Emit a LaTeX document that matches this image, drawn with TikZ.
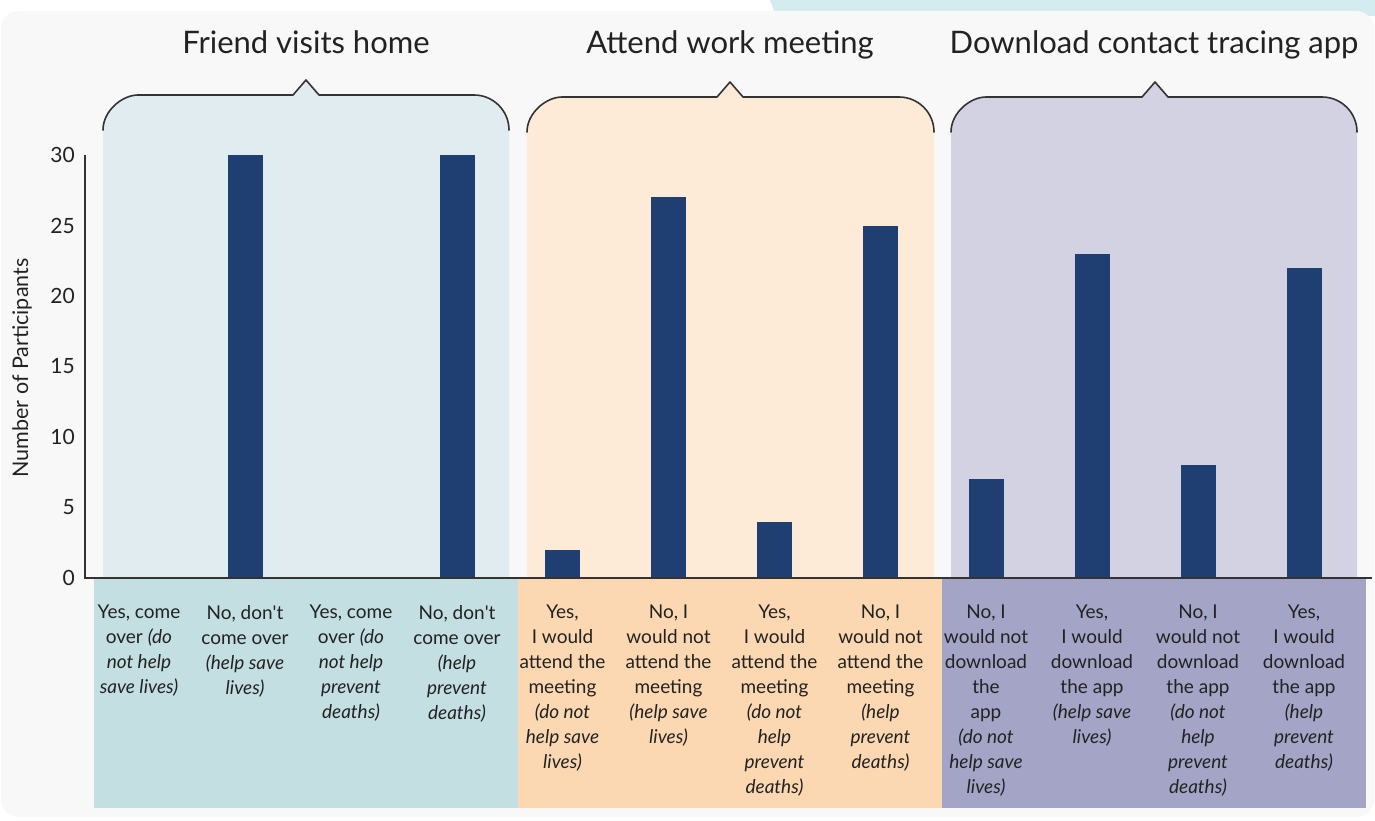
\documentclass[tikz,border=0pt]{standalone}
\usepackage{fontspec}
\setmainfont{Lato}
\definecolor{barcol}{HTML}{1F3F73}
\definecolor{panelA}{HTML}{E0ECEF}
\definecolor{bandA}{HTML}{C3DFE2}
\definecolor{panelB}{HTML}{FDEBD8}
\definecolor{bandB}{HTML}{FBD8B2}
\definecolor{panelC}{HTML}{D3D2E3}
\definecolor{bandC}{HTML}{A4A4C6}
\definecolor{cardcol}{HTML}{F8F8F8}
\definecolor{stripcol}{HTML}{D4ECEF}
\definecolor{inkcol}{HTML}{222222}
\definecolor{linecol}{HTML}{333333}
\tikzset{
  bracketline/.style={draw=linecol, line width=1.6pt, line cap=round, line join=round},
  axisline/.style={draw=linecol, line width=1.8pt},
  catlabel/.style={text=inkcol, align=center, inner sep=0pt, anchor=north, font=\fontsize{19}{25}\selectfont},
  ticklabel/.style={text=inkcol, inner sep=0pt, anchor=east, font=\fontsize{21}{23}\selectfont},
  grouptitle/.style={text=inkcol, inner sep=0pt, anchor=base, font=\fontsize{31}{33}\selectfont},
  barfill/.style={fill=barcol}
}
\newcommand{\panelshape}[6]{% L R T P fill name
  \fill[#5] (#1,578) -- (#1,#3+35) .. controls (#1,#3+15.7) and (#1+19.3,#3) .. (#1+35,#3)
     -- (#4-13,#3) -- (#4,#3-15) -- (#4+13,#3) -- (#2-35,#3)
     .. controls (#2-15.7,#3) and (#2,#3+15.7) .. (#2,#3+35) -- (#2,578) -- cycle;
  \draw[bracketline] (#1,#3+35) .. controls (#1,#3+15.7) and (#1+19.3,#3) .. (#1+35,#3)
     -- (#4-13,#3) -- (#4,#3-15) -- (#4+13,#3) -- (#2-35,#3)
     .. controls (#2-15.7,#3) and (#2,#3+15.7) .. (#2,#3+35);
  \coordinate (#6) at (#4,#3-15);
}
\newcommand{\qs}{\textquotesingle}
\begin{document}
\begin{tikzpicture}[x=1pt,y=-1pt]
\useasboundingbox (0,0) rectangle (1375,820);
\fill[white] (0,0) rectangle (1375,820);
\fill[stripcol] (770,0) -- (1375,0) -- (1375,16) -- (776,16) -- cycle;
\fill[cardcol, rounded corners=18pt] (1,11) rectangle (1374,817);
% label bands
\fill[bandA] (94,578) rectangle (518,808);
\fill[bandB] (518,578) rectangle (942,808);
\fill[bandC] (942,578) rectangle (1366,808);
% panels with brackets
\panelshape{103}{509}{95}{306}{panelA}{peakA}
\panelshape{527}{934}{97}{730}{panelB}{peakB}
\panelshape{951}{1357}{97}{1155}{panelC}{peakC}
% titles
\node[grouptitle] (titleA) at (306,53) {Friend visits home};
\node[grouptitle] (titleB) at (730,53) {Attend work meeting};
\node[grouptitle] (titleC) at (1154,53) {Download contact tracing app};
% bars
\foreach \g/\k/\v in {0/1/30, 0/3/30, 1/0/2, 1/1/27, 1/2/4, 1/3/25, 2/0/7, 2/1/23, 2/2/8, 2/3/22}{
  \fill[barfill] ({139+106*\k+423.5*\g-17.5},578) rectangle ++(35,{-14.1*\v});
}
% axes
\draw[axisline] (85,155) -- (85,578) -- (1372,578);
\foreach \v in {0,5,...,30}{
  \node[ticklabel] (tick\v) at (75,{578-14.1*\v}) {\v};
}
\node[text=inkcol, rotate=90, inner sep=0pt, font=\fontsize{21.5}{23}\selectfont] (ytitle) at (22,368) {Number of Participants};
% category labels
\node[catlabel] (a1) at (139,605) {Yes, come\\over \textit{(do}\\\textit{not help}\\\textit{save lives)}};
\node[catlabel] (a2) at (245,605) {No, don\qs t\\come over\\\textit{(help save}\\\textit{lives)}};
\node[catlabel] (a3) at (351,605) {Yes, come\\over \textit{(do}\\\textit{not help}\\\textit{prevent}\\\textit{deaths)}};
\node[catlabel] (a4) at (457,605) {No, don\qs t\\come over\\\textit{(help}\\\textit{prevent}\\\textit{deaths)}};
\node[catlabel] (b1) at (562.5,605) {Yes,\\I would\\attend the\\meeting\\\textit{(do not}\\\textit{help save}\\\textit{lives)}};
\node[catlabel] (b2) at (668.5,605) {No, I\\would not\\attend the\\meeting\\\textit{(help save}\\\textit{lives)}};
\node[catlabel] (b3) at (774.5,605) {Yes,\\I would\\attend the\\meeting\\\textit{(do not}\\\textit{help}\\\textit{prevent}\\\textit{deaths)}};
\node[catlabel] (b4) at (880.5,605) {No, I\\would not\\attend the\\meeting\\\textit{(help}\\\textit{prevent}\\\textit{deaths)}};
\node[catlabel] (c1) at (986,605) {No, I\\would not\\download\\the\\app\\\textit{(do not}\\\textit{help save}\\\textit{lives)}};
\node[catlabel] (c2) at (1092,605) {Yes,\\I would\\download\\the app\\\textit{(help save}\\\textit{lives)}};
\node[catlabel] (c3) at (1198,605) {No, I\\would not\\download\\the app\\\textit{(do not}\\\textit{help}\\\textit{prevent}\\\textit{deaths)}};
\node[catlabel] (c4) at (1304,605) {Yes,\\I would\\download\\the app\\\textit{(help}\\\textit{prevent}\\\textit{deaths)}};
\end{tikzpicture}
\end{document}
